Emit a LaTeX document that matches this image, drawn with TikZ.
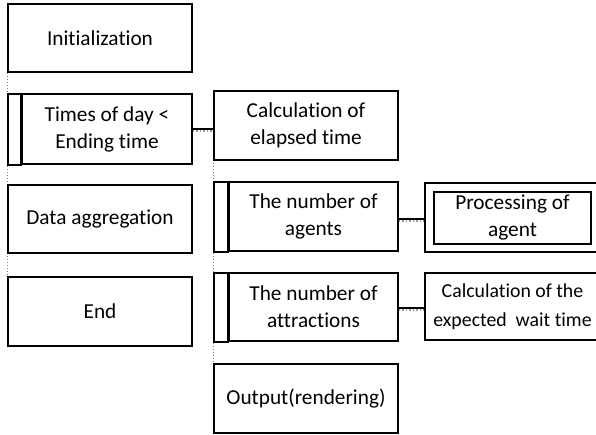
\documentclass[tikz,border=0pt]{standalone}
\usepackage{fontspec}
\setmainfont{Carlito}[Ligatures={NoCommon}]
\begin{document}
\begin{tikzpicture}[x=1pt,y=-1pt,
  box/.style={draw,line width=1.9pt,align=center,inner sep=0pt,
    font=\fontsize{21.3}{27}\selectfont},
  smallbox/.style={box,font=\fontsize{19.8}{29}\selectfont},
  strip/.style={draw,line width=1.9pt},
  spine/.style={draw=gray,line width=1pt,dotted},
  linkblack/.style={draw,line width=1.1pt},
  linkgray/.style={draw=gray!80,line width=1.5pt,dotted}]
\useasboundingbox (0,0) rectangle (596,435);
\clip (0,0) rectangle (596,435);
% spines
\coordinate (s1a) at (7,4);
\coordinate (s1b) at (7,346);
\coordinate (s2a) at (213,91);
\coordinate (s2b) at (213,433);
\draw[spine] (s1a) -- (s1b);
\draw[spine] (s2a) -- (s2b);
% left column
\node[box,minimum width=184pt,minimum height=68pt] (init) at (100,38) {Initialization};
\node[box,minimum width=170pt,minimum height=70pt] (times) at (107,129) {Times of day <\\Ending time};
\coordinate (timesnw) at (8,94);
\draw[strip] (timesnw) rectangle (times.south west);
\node[box,minimum width=184pt,minimum height=68pt] (data) at (100,219) {Data aggregation};
\node[box,minimum width=184pt,minimum height=69pt] (end) at (100,311.5) {End};
% second column
\node[box,minimum width=184pt,minimum height=69pt] (calc) at (306,125.5) {Calculation of\\elapsed time};
\node[box,minimum width=169pt,minimum height=69pt] (agents) at (313.5,216.5) {The number of\\agents};
\coordinate (agentsnw) at (214,182);
\draw[strip] (agentsnw) rectangle (agents.south west);
\node[box,minimum width=169pt,minimum height=68pt] (attr) at (313.5,307) {The number of\\attractions};
\coordinate (attrnw) at (214,273);
\draw[strip] (attrnw) rectangle (attr.south west);
\node[box,minimum width=184pt,minimum height=69pt] (out) at (306,398.5) {Output(rendering)};
% right column
\node[draw,line width=1.9pt,minimum width=175pt,minimum height=69pt] (procout) at (512.5,217.5) {};
\node[box,minimum width=157pt,minimum height=52pt] (proc) at (512.5,218) {Processing of\\agent};
\node[smallbox,minimum width=175pt,minimum height=67pt] (wait) at (512.5,306.5) {Calculation of the\\expected\ \ wait time};
% connectors
\draw[linkgray] ([yshift=-2pt]times.east) -- ([yshift=-2pt]times.east -| calc.west);
\draw[linkblack] (times.east) -- (times.east -| calc.west);
\coordinate (a1) at (agents.east |- 0,219);
\draw[linkgray] ([yshift=-2pt]a1) -- ([yshift=-2pt]a1 -| procout.west);
\draw[linkblack] (a1) -- (a1 -| procout.west);
\coordinate (a2) at (attr.east |- 0,308);
\draw[linkgray] ([yshift=-2pt]a2) -- ([yshift=-2pt]a2 -| wait.west);
\draw[linkblack] (a2) -- (a2 -| wait.west);
\end{tikzpicture}
\end{document}
